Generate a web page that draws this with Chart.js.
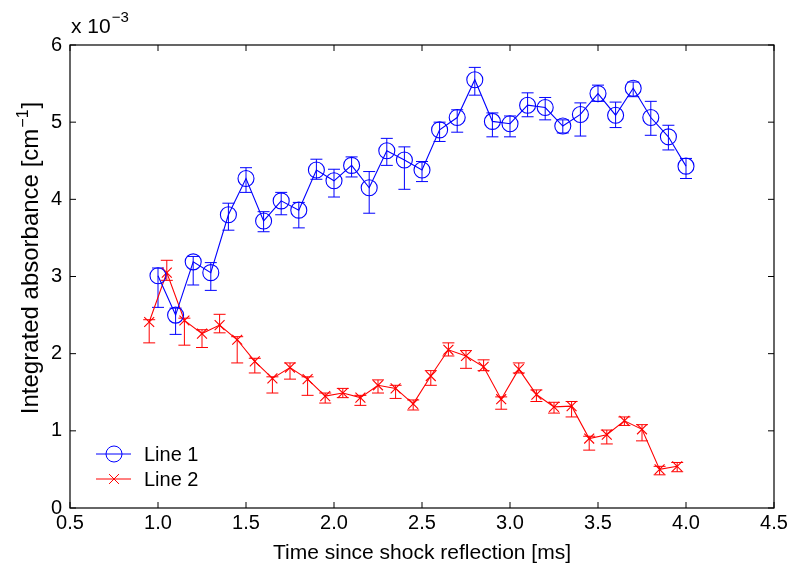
<!DOCTYPE html>
<html>
<head>
<meta charset="utf-8">
<script src="https://cdn.jsdelivr.net/npm/chart.js@4/dist/chart.umd.min.js"></script>
<style>
  html, body { margin: 0; padding: 0; background: #fff; }
  canvas { display: block; }
</style>
</head>
<body>
<canvas id="absChart" width="792" height="574"></canvas>
<script>
// Время, мс
const time1 = [1.0, 1.1, 1.2, 1.3, 1.4, 1.5, 1.6, 1.7, 1.8, 1.9, 2.0, 2.1, 2.2, 2.3, 2.4, 2.5,
  2.6, 2.7, 2.8, 2.9, 3.0, 3.1, 3.2, 3.3, 3.4, 3.5, 3.6, 3.7, 3.8, 3.9, 4.0];
const time2 = [0.95, 1.05, 1.15, 1.25, 1.35, 1.45, 1.55, 1.65, 1.75, 1.85, 1.95, 2.05, 2.15, 2.25, 2.35, 2.45,
  2.55, 2.65, 2.75, 2.85, 2.95, 3.05, 3.15, 3.25, 3.35, 3.45, 3.55, 3.65, 3.75, 3.85, 3.95];

// Значения (x 10^-3 cm^-1)
const line1 = [3.01, 2.50, 3.19, 3.05, 3.80, 4.27, 3.72, 3.98, 3.86, 4.38, 4.24, 4.44, 4.15, 4.63, 4.51, 4.38,
  4.90, 5.06, 5.55, 5.01, 4.98, 5.22, 5.19, 4.95, 5.10, 5.37, 5.09, 5.44, 5.06, 4.81, 4.43];
const line1Hi = [3.11, 2.59, 3.26, 3.18, 3.95, 4.41, 3.84, 4.09, 3.96, 4.52, 4.39, 4.55, 4.36, 4.79, 4.68, 4.49,
  5.00, 5.16, 5.71, 5.12, 5.08, 5.38, 5.32, 5.03, 5.25, 5.48, 5.26, 5.52, 5.27, 4.96, 4.53];
const line1Lo = [2.60, 2.25, 2.89, 2.82, 3.60, 4.09, 3.58, 3.80, 3.63, 4.26, 4.03, 4.29, 3.82, 4.44, 4.13, 4.23,
  4.75, 4.87, 5.35, 4.81, 4.81, 5.07, 5.03, 4.86, 4.82, 5.27, 4.93, 5.33, 4.83, 4.64, 4.27];

const line2 = [2.41, 3.05, 2.43, 2.26, 2.37, 2.18, 1.90, 1.68, 1.82, 1.67, 1.45, 1.49, 1.43, 1.59, 1.55, 1.35,
  1.71, 2.05, 1.97, 1.83, 1.41, 1.80, 1.47, 1.31, 1.32, 0.90, 0.95, 1.13, 1.02, 0.50, 0.54];
const line2Hi = [2.44, 3.21, 2.46, 2.31, 2.51, 2.22, 1.94, 1.70, 1.88, 1.70, 1.49, 1.55, 1.46, 1.66, 1.59, 1.40,
  1.78, 2.14, 2.04, 1.92, 1.44, 1.88, 1.53, 1.37, 1.38, 0.93, 1.01, 1.18, 1.08, 0.54, 0.59];
const line2Lo = [2.14, 2.95, 2.11, 2.08, 2.27, 1.88, 1.75, 1.49, 1.67, 1.46, 1.36, 1.43, 1.33, 1.49, 1.42, 1.27,
  1.59, 1.97, 1.81, 1.78, 1.28, 1.75, 1.38, 1.23, 1.18, 0.75, 0.83, 1.07, 0.87, 0.43, 0.47];

const seriesNames = ["Line 1", "Line 2"];
const xTicks = [0.5, 1, 1.5, 2, 2.5, 3, 3.5, 4, 4.5];
const yTicks = [0, 1, 2, 3, 4, 5, 6];

const FONT = "'Liberation Sans', Arial, Helvetica, sans-serif";

function points(xs, ys, hi, lo) {
  return xs.map((x, i) => ({ x: x, y: ys[i], hi: hi[i], lo: lo[i] }));
}

// Планки погрешностей рисуем через шкалы графика
const errorBars = {
  id: "errorBars",
  beforeDatasetsDraw(chart) {
    const { ctx, scales: { x, y } } = chart;
    const cap = 6;
    chart.data.datasets.forEach((ds) => {
      ctx.save();
      ctx.strokeStyle = ds.borderColor;
      ctx.lineWidth = 1;
      ctx.beginPath();
      ds.data.forEach((p) => {
        const px = x.getPixelForValue(p.x);
        const top = y.getPixelForValue(p.hi);
        const bot = y.getPixelForValue(p.lo);
        ctx.moveTo(px, top); ctx.lineTo(px, bot);
        ctx.moveTo(px - cap, top); ctx.lineTo(px + cap, top);
        ctx.moveTo(px - cap, bot); ctx.lineTo(px + cap, bot);
      });
      ctx.stroke();
      ctx.restore();
    });
  },
};

// Рамка, внутренние засечки, подпись оси Y, множитель и легенда в стиле MATLAB
const matlabFrame = {
  id: "matlabFrame",
  afterDraw(chart) {
    const { ctx, chartArea: a, scales: { x, y } } = chart;
    ctx.save();
    ctx.strokeStyle = "#000";
    ctx.lineWidth = 1.2;
    ctx.strokeRect(a.left, a.top, a.right - a.left, a.bottom - a.top);

    const tl = 6;
    ctx.beginPath();
    xTicks.forEach((v) => {
      const px = x.getPixelForValue(v);
      ctx.moveTo(px, a.bottom); ctx.lineTo(px, a.bottom - tl);
      ctx.moveTo(px, a.top); ctx.lineTo(px, a.top + tl);
    });
    yTicks.forEach((v) => {
      const py = y.getPixelForValue(v);
      ctx.moveTo(a.left, py); ctx.lineTo(a.left + tl, py);
      ctx.moveTo(a.right, py); ctx.lineTo(a.right - tl, py);
    });
    ctx.lineWidth = 1;
    ctx.stroke();

    ctx.fillStyle = "#000";
    ctx.textAlign = "left";
    ctx.textBaseline = "alphabetic";

    // Подпись оси Y с верхним индексом
    ctx.save();
    ctx.translate(38, 0);
    ctx.rotate(-Math.PI / 2);
    const mainTxt = "Integrated absorbance [cm";
    ctx.font = "24px " + FONT;
    const w1 = ctx.measureText(mainTxt).width;
    ctx.font = "16px " + FONT;
    const w2 = ctx.measureText("\u22121").width;
    ctx.font = "24px " + FONT;
    const w3 = ctx.measureText("]").width;
    const total = w1 + w2 + w3 + 2;
    let tx = -(258 + total / 2);
    ctx.fillText(mainTxt, tx, 0);
    tx += w1 + 1;
    ctx.font = "16px " + FONT;
    ctx.fillText("\u22121", tx, -10);
    tx += w2 + 1;
    ctx.font = "24px " + FONT;
    ctx.fillText("]", tx, 0);
    ctx.restore();

    // x 10^-3
    ctx.font = "21px " + FONT;
    ctx.fillText("x 10", a.left + 1, 33);
    const w = ctx.measureText("x 10").width;
    ctx.font = "15px " + FONT;
    ctx.fillText("\u22123", a.left + 2 + w, 22);

    // Легенда
    chart.data.datasets.forEach((ds, i) => {
      const ly = 454 + i * 25;
      ctx.strokeStyle = ds.borderColor;
      ctx.fillStyle = "rgba(0,0,0,0)";
      ctx.lineWidth = 1;
      ctx.beginPath();
      ctx.moveTo(96, ly); ctx.lineTo(131, ly);
      ctx.stroke();
      Chart.helpers.drawPoint(ctx, {
        pointStyle: ds.pointStyle,
        radius: ds.pointRadius,
        borderWidth: 1,
        rotation: 0,
      }, 114, ly);
      ctx.fillStyle = "#000";
      ctx.font = "20px " + FONT;
      ctx.textBaseline = "middle";
      ctx.fillText(ds.label, 144, ly + 1);
    });
    ctx.restore();
  },
};

new Chart(document.getElementById("absChart"), {
  type: "scatter",
  data: {
    datasets: [
      {
        label: seriesNames[0],
        data: points(time1, line1, line1Hi, line1Lo),
        showLine: true,
        borderColor: "#0000ff",
        borderWidth: 1.1,
        pointStyle: "circle",
        pointRadius: 8,
        pointBorderWidth: 1.1,
        pointBackgroundColor: "rgba(0,0,0,0)",
        pointBorderColor: "#0000ff",
      },
      {
        label: seriesNames[1],
        data: points(time2, line2, line2Hi, line2Lo),
        showLine: true,
        borderColor: "#ff0000",
        borderWidth: 1.1,
        pointStyle: "crossRot",
        pointRadius: 7,
        pointBorderWidth: 1.1,
        pointBackgroundColor: "rgba(0,0,0,0)",
        pointBorderColor: "#ff0000",
      },
    ],
  },
  options: {
    responsive: false,
    animation: false,
    layout: { padding: { top: 45, right: 18, left: 0, bottom: 0 } },
    plugins: {
      legend: { display: false },
      tooltip: { enabled: false },
    },
    scales: {
      x: {
        type: "linear",
        min: 0.5,
        max: 4.5,
        afterBuildTicks: (s) => { s.ticks = xTicks.map((v) => ({ value: v })); },
        afterFit: (s) => { s.height = 66; },
        grid: { display: false, drawTicks: false },
        border: { display: false },
        ticks: { color: "#000", padding: 3, maxRotation: 0, font: { family: FONT, size: 20 } },
        title: {
          display: true,
          text: "Time since shock reflection [ms]",
          color: "#000",
          font: { family: FONT, size: 21 },
          padding: { bottom: 8 },
        },
      },
      y: {
        type: "linear",
        min: 0,
        max: 6,
        afterBuildTicks: (s) => { s.ticks = yTicks.map((v) => ({ value: v })); },
        afterFit: (s) => { s.width = 70; },
        grid: { display: false, drawTicks: false },
        border: { display: false },
        ticks: { color: "#000", padding: 8, font: { family: FONT, size: 20 } },
        title: { display: false },
      },
    },
  },
  plugins: [errorBars, matlabFrame],
});
</script>
</body>
</html>
